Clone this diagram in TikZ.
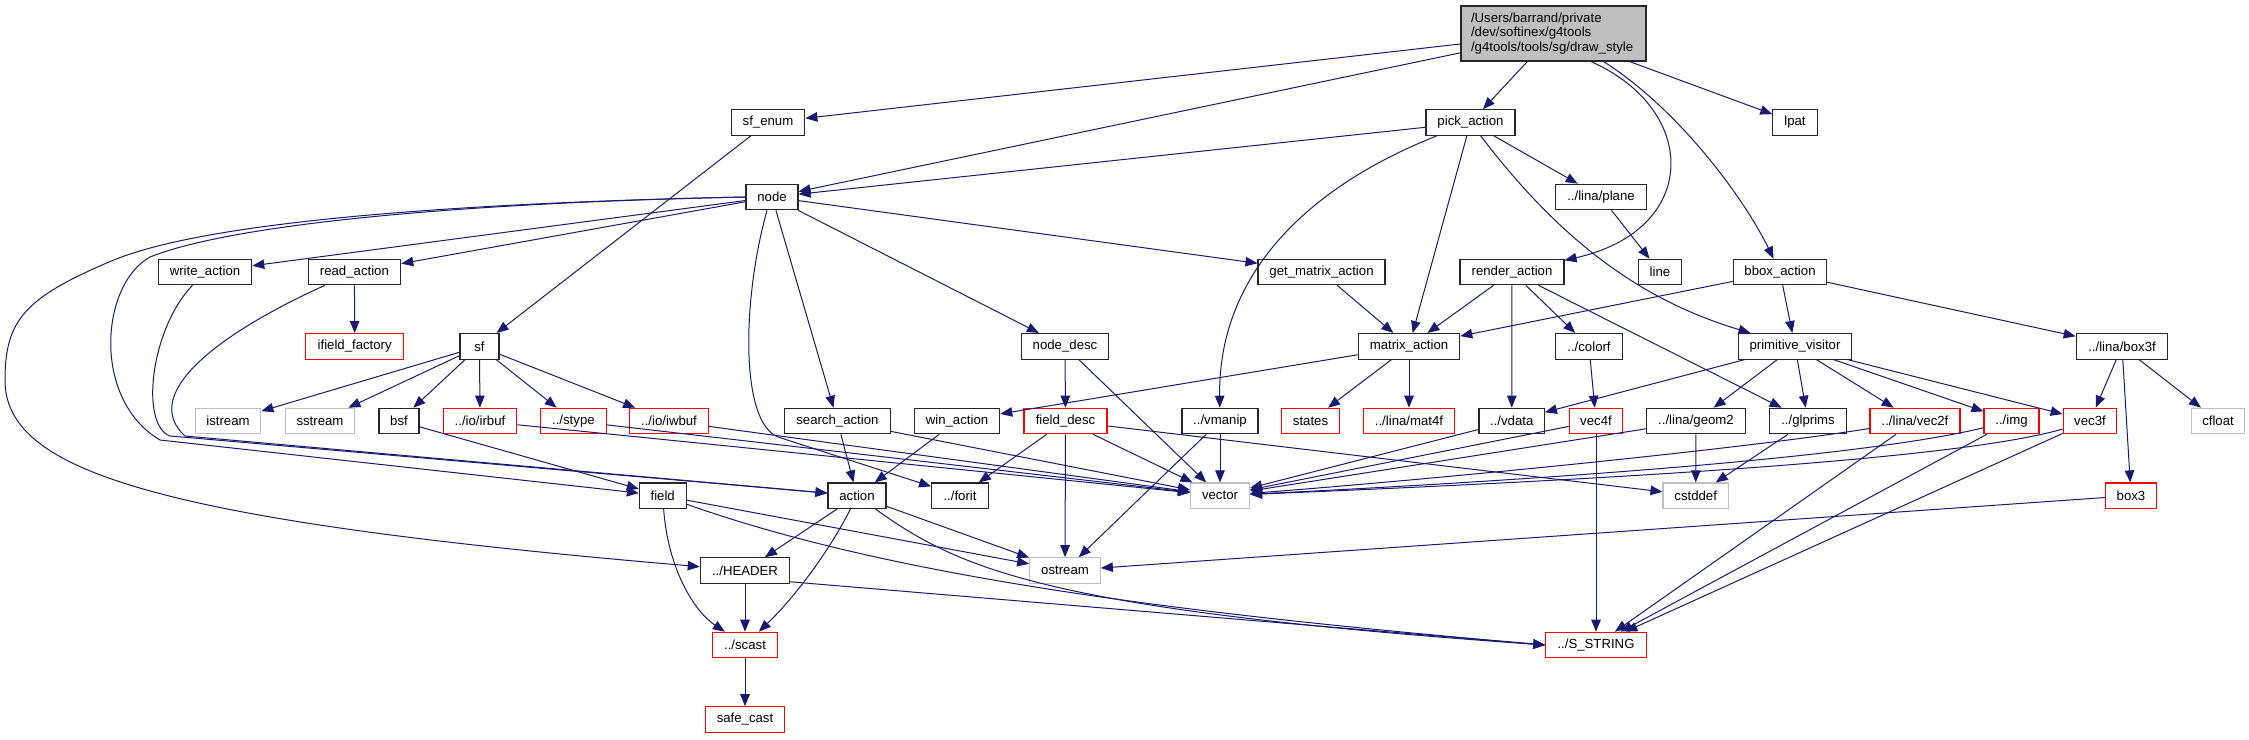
\documentclass[tikz,border=0pt]{standalone}
\usepackage{fontspec}
\setmainfont{Liberation Sans}
\usetikzlibrary{arrows.meta}
\definecolor{edgeblue}{HTML}{191970}
\definecolor{mainfill}{HTML}{BFBFBF}
\definecolor{sysgray}{HTML}{BFBFBF}
\definecolor{redline}{HTML}{FF0000}
\begin{document}
\begin{tikzpicture}[x=1pt,y=-1pt,
  box/.style={draw=black!85, line width=1.1pt, minimum height=25.5pt, inner sep=0pt, fill=white, font=\fontsize{13.2}{14.7}\selectfont},
  sysbox/.style={box, draw=sysgray},
  redbox/.style={box, draw=redline},
  edge/.style={draw=edgeblue, line width=1pt, -{Triangle[length=12pt,width=9.5pt]}}]
\useasboundingbox (0,0) rectangle (2249,739);

% nodes
\node[box, fill=mainfill, minimum width=185pt, minimum height=55pt, text width=165pt, align=left] (main) at (1553.5,33.5) {/Users/barrand/private\\/dev/softinex/g4tools\\/g4tools/tools/sg/draw\_style};

\node[box, minimum width=73.7pt] (sfenum) at (768,122.5) {sf\_enum};
\node[box, minimum width=89pt] (pick) at (1470.5,122.5) {pick\_action};
\node[box, minimum width=44.3pt] (lpat) at (1795,122.5) {lpat};

\node[box, minimum width=52pt] (nd) at (772,197) {node};
\node[box, minimum width=90.5pt] (plane) at (1601,197) {../lina/plane};

\node[box, minimum width=93.5pt] (write) at (205,272) {write\_action};
\node[box, minimum width=92.7pt] (read) at (354.4,272) {read\_action};
\node[box, minimum width=127pt] (gm) at (1321.5,272) {get\_matrix\_action};
\node[box, minimum width=104pt] (render) at (1512,272) {render\_action};
\node[box, minimum width=43.5pt] (ln) at (1660,272) {line};
\node[box, minimum width=93.5pt] (bbox) at (1780,272) {bbox\_action};

\node[redbox, minimum width=97.8pt] (ifield) at (354.7,346.3) {ifield\_factory};
\node[box, minimum width=39pt] (sf) at (479.5,346.3) {sf};
\node[box, minimum width=87pt] (nodedesc) at (1065,346.3) {node\_desc};
\node[box, minimum width=101.5pt] (matrix) at (1409,346.3) {matrix\_action};
\node[box, minimum width=66.5pt] (colorf) at (1589,346.3) {../colorf};
\node[box, minimum width=113.6pt] (pv) at (1795,346.3) {primitive\_visitor};
\node[box, minimum width=91.6pt] (box3f) at (2122,346.3) {../lina/box3f};

\node[sysbox, minimum width=65.7pt] (istream) at (228,421) {istream};
\node[sysbox, minimum width=69.5pt] (sstream) at (320,421) {sstream};
\node[box, minimum width=40pt] (bsf) at (399,421) {bsf};
\node[redbox, minimum width=73.7pt] (irbuf) at (480,421) {../io/irbuf};
\node[redbox, minimum width=65.3pt] (stype) at (573.4,421) {../stype};
\node[redbox, minimum width=79pt] (iwbuf) at (669,421) {../io/iwbuf};
\node[box, minimum width=105.3pt] (search) at (837.4,421) {search\_action};
\node[box, minimum width=85.5pt] (win) at (957,421) {win\_action};
\node[redbox, minimum width=83pt] (fielddesc) at (1065.5,421) {field\_desc};
\node[box, minimum width=76pt] (vmanip) at (1220,421) {../vmanip};
\node[redbox, minimum width=57.5pt] (states) at (1310.5,421) {states};
\node[redbox, minimum width=91pt] (mat4f) at (1409,421) {../lina/mat4f};
\node[box, minimum width=65.4pt] (vdata) at (1511.7,421) {../vdata};
\node[redbox, minimum width=53.5pt] (vec4f) at (1596,421) {vec4f};
\node[box, minimum width=98.5pt] (geom2) at (1696,421) {../lina/geom2};
\node[box, minimum width=76.4pt] (glprims) at (1808,421) {../glprims};
\node[redbox, minimum width=90pt] (vec2f) at (1915,421) {../lina/vec2f};
\node[redbox, minimum width=55pt] (img) at (2011.5,421) {../img};
\node[redbox, minimum width=53.7pt] (vec3f) at (2090,421) {vec3f};
\node[sysbox, minimum width=53.4pt] (cfloat) at (2218,421) {cfloat};

\node[box, minimum width=46.7pt] (field) at (662.7,495.7) {field};
\node[box, minimum width=58pt] (action) at (857,495.7) {action};
\node[box, minimum width=56.8pt] (forit) at (960,495.7) {../forit};
\node[sysbox, minimum width=59pt] (vector) at (1220,495.7) {vector};
\node[sysbox, minimum width=65.4pt] (cstddef) at (1695.7,495.7) {cstddef};
\node[redbox, minimum width=50.7pt] (box3) at (2131,495.7) {box3};

\node[box, minimum width=89.4pt] (header) at (745,570.5) {../HEADER};
\node[sysbox, minimum width=70.7pt] (ostream) at (1065,570.5) {ostream};

\node[redbox, minimum width=64.5pt] (scast) at (745,645) {../scast};
\node[redbox, minimum width=100.4pt] (sstring) at (1596,645) {../S\_STRING};

\node[redbox, minimum width=78.6pt] (safecast) at (745,719.5) {safe\_cast};

% edges from main
\draw[edge] (main) -- (sfenum);
\draw[edge] (main) -- (nd);
\draw[edge] (main) -- (pick);
\draw[edge] (main) -- (lpat);
\draw[edge] ([xshift=37.5pt]main.south) .. controls (1700,110) and (1700,230) .. (render);
\draw[edge] ([xshift=50pt]main.south) .. controls (1680,110) and (1745,200) .. (bbox);

% pick_action
\draw[edge] (pick) -- (nd);
\draw[edge] (pick) .. controls (1300,190) and (1218,280) .. (vmanip);
\draw[edge] (pick) -- (matrix);
\draw[edge] (pick) -- (plane);
\draw[edge] (pick) .. controls (1560,240) and (1640,300) .. (pv);
\draw[edge] (plane) -- (ln);

% node
\draw[edge] (nd) -- (write);
\draw[edge] (nd) -- (read);
\draw[edge] (nd) -- (gm);
\draw[edge] (nd) -- (nodedesc);
\draw[edge] (nd) -- (search);
\draw[edge] ([xshift=-5pt]nd.south) .. controls (742,300) and (740,422) .. (778,437) -- (forit);
\draw[edge] (nd.west) .. controls (450,203) and (230,225) .. (150,257) .. controls (100,285) and (92,400) .. (160,440) -- (field);
\draw[edge] (nd.west) .. controls (450,203) and (200,222) .. (109,262) .. controls (25,298) and (5,320) .. (5,380) .. controls (5,470) and (150,520) .. (header);

% write/read
\draw[edge] (write) .. controls (150,330) and (140,425) .. (170,436) -- (action);
\draw[edge] (read) .. controls (215,335) and (140,395) .. (185,436) -- (action);
\draw[edge] (read) -- (ifield);

% sf
\draw[edge] (sfenum) -- (sf);
\draw[edge] (sf) -- (istream);
\draw[edge] (sf) -- (sstream);
\draw[edge] (sf) -- (bsf);
\draw[edge] (sf) -- (irbuf);
\draw[edge] (sf) -- (stype);
\draw[edge] (sf) -- (iwbuf);
\draw[edge] (bsf) -- (field);
\draw[edge] (irbuf) -- (vector);
\draw[edge] (stype) -- (vector);
\draw[edge] (iwbuf) -- (vector);

% field
\draw[edge] (field) .. controls (668,570) and (695,612) .. (scast);
\draw[edge] (field) -- (ostream);
\draw[edge] (field) .. controls (900,580) and (1200,615) .. (sstring.west);

% action
\draw[edge] (action) -- (header);
\draw[edge] (action) .. controls (830,550) and (795,597) .. (scast);
\draw[edge] (action) -- (ostream);
\draw[edge] (action) .. controls (960,570) and (1050,610) .. (sstring.west);

% header
\draw[edge] (header) -- (scast);
\draw[edge] ([yshift=2pt]header.south east) -- (sstring.west);
\draw[edge] (scast) -- (safecast);

% search, win, node_desc, field_desc
\draw[edge] (search) -- (action);
\draw[edge] (search) -- (vector);
\draw[edge] (win) -- (action);
\draw[edge] (nodedesc) -- (fielddesc);
\draw[edge] (nodedesc) -- (vector);
\draw[edge] (fielddesc) -- (forit);
\draw[edge] (fielddesc) -- (ostream);
\draw[edge] (fielddesc) -- (vector);
\draw[edge] (fielddesc) -- (cstddef);

% matrix & co
\draw[edge] (matrix) -- (win);
\draw[edge] (matrix) -- (states);
\draw[edge] (matrix) -- (mat4f);
\draw[edge] (gm) -- (matrix);
\draw[edge] (render) -- (matrix);
\draw[edge] (render) -- (vdata);
\draw[edge] (render) -- (colorf);
\draw[edge] (render) -- (glprims);
\draw[edge] (colorf) -- (vec4f);
\draw[edge] (vec4f) -- (vector);
\draw[edge] (vec4f) -- (sstring);
\draw[edge] (vdata) -- (vector);
\draw[edge] (vmanip) -- (vector);
\draw[edge] (vmanip) -- (ostream);

% bbox & primitive_visitor
\draw[edge] (bbox) -- (matrix);
\draw[edge] (bbox) -- (pv);
\draw[edge] (bbox) -- (box3f);
\draw[edge] (pv) -- (vdata);
\draw[edge] (pv) -- (geom2);
\draw[edge] (pv) -- (glprims);
\draw[edge] (pv) -- (vec2f);
\draw[edge] (pv) -- (img);
\draw[edge] (pv) -- (vec3f);
\draw[edge] (geom2) -- (vector);
\draw[edge] (geom2) -- (cstddef);
\draw[edge] (glprims) -- (cstddef);
\draw[edge] (vec2f) .. controls (1750,448) and (1450,478) .. (vector);
\draw[edge] (img) .. controls (1850,460) and (1500,482) .. (vector);
\draw[edge] (vec3f) .. controls (1950,462) and (1550,482) .. (vector);
\draw[edge] (vec2f) -- (sstring);
\draw[edge] (img) -- (sstring);
\draw[edge] (vec3f) -- (sstring);
\draw[edge] (box3f) -- (vec3f);
\draw[edge] (box3f) -- (box3);
\draw[edge] (box3f) -- (cfloat);
\draw[edge] (box3) -- (ostream);
\end{tikzpicture}
\end{document}
